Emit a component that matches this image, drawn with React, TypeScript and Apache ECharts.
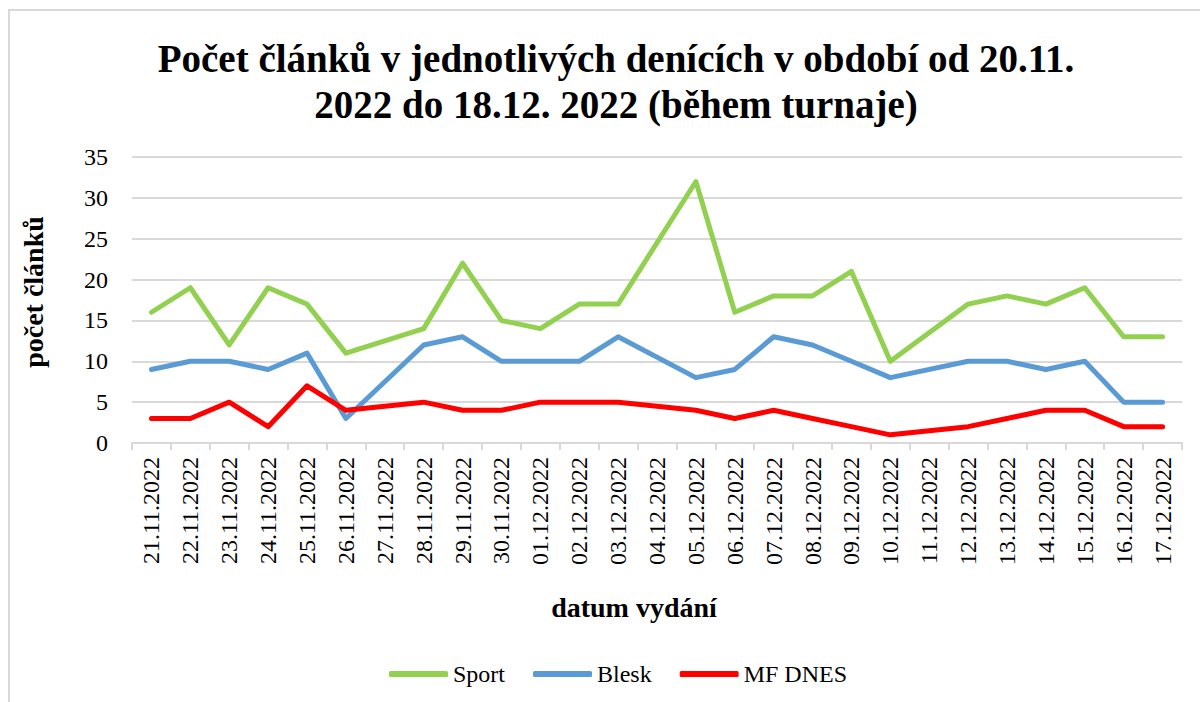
import React, { useEffect, useRef } from "react";
import * as echarts from "echarts";

const categories = [
  "21.11.2022", "22.11.2022", "23.11.2022", "24.11.2022", "25.11.2022", "26.11.2022", "27.11.2022",
  "28.11.2022", "29.11.2022", "30.11.2022", "01.12.2022", "02.12.2022", "03.12.2022", "04.12.2022",
  "05.12.2022", "06.12.2022", "07.12.2022", "08.12.2022", "09.12.2022", "10.12.2022", "11.12.2022",
  "12.12.2022", "13.12.2022", "14.12.2022", "15.12.2022", "16.12.2022", "17.12.2022",
];

const sport = [16, 19, 12, 19, 17, 11, null, 14, 22, 15, 14, 17, 17, null, 32, 16, 18, 18, 21, 10, null, 17, 18, 17, 19, 13, 13];
const blesk = [9, 10, 10, 9, 11, 3, null, 12, 13, 10, 10, 10, 13, null, 8, 9, 13, 12, 10, 8, null, 10, 10, 9, 10, 5, 5];
const mfDnes = [3, 3, 5, 2, 7, 4, null, 5, 4, 4, 5, 5, 5, null, 4, 3, 4, 3, 2, 1, null, 2, 3, 4, 4, 2, 2];

const yTicks = { min: 0, max: 35, interval: 5 };

const titleText = "Počet článků v jednotlivých denících v období od 20.11.\n2022 do 18.12. 2022 (během turnaje)";
const serif = "Liberation Serif";

export default function App() {
  const ref = useRef<HTMLDivElement>(null);
  useEffect(() => {
    if (!ref.current) return;
    const chart = echarts.init(ref.current, null, { renderer: "svg" });
    const mkSeries = (name: string, data: (number | null)[], color: string) => ({
      name,
      type: "line",
      data,
      connectNulls: true,
      showSymbol: false,
      symbol: "none",
      color,
      lineStyle: { width: 5, color, cap: "round", join: "round" },
    });
    chart.setOption({
      animation: false,
      backgroundColor: "#fff",
      textStyle: { fontFamily: serif },
      graphic: [
        {
          type: "rect",
          shape: { x: 9, y: 10, width: 1200, height: 700 },
          style: { fill: "none", stroke: "#d9d9d9", lineWidth: 2 },
          silent: true,
        },
      ],
      title: {
        text: titleText,
        left: 611,
        top: 30,
        textAlign: "center",
        textStyle: {
          fontFamily: serif,
          fontSize: 39,
          fontWeight: "bold",
          lineHeight: 46,
          color: "#000",
        },
      },
      legend: {
        left: 384,
        top: 657,
        itemWidth: 59,
        itemHeight: 6,
        itemGap: 28,
        icon: "roundRect",
        textStyle: { fontFamily: serif, fontSize: 24, color: "#000" },
        data: ["Sport", "Blesk", "MF DNES"],
      },
      grid: { left: 132, right: 18, top: 157, bottom: 259, containLabel: false },
      xAxis: {
        type: "category",
        data: categories,
        boundaryGap: true,
        name: "datum vydání",
        nameLocation: "middle",
        nameGap: 150,
        nameTextStyle: {
          fontFamily: serif,
          fontSize: 28,
          fontWeight: "bold",
          color: "#000",
          padding: [0, 46, 0, 0],
        },
        axisLine: { lineStyle: { color: "#d9d9d9", width: 2 } },
        axisTick: { show: true, length: 7, lineStyle: { color: "#d9d9d9", width: 2 } },
        axisLabel: {
          rotate: 90,
          interval: 0,
          margin: 14,
          fontFamily: serif,
          fontSize: 24,
          color: "#000",
        },
      },
      yAxis: {
        type: "value",
        min: yTicks.min,
        max: yTicks.max,
        interval: yTicks.interval,
        name: "počet článků",
        nameLocation: "middle",
        nameGap: 85,
        nameTextStyle: {
          fontFamily: serif,
          fontSize: 28,
          fontWeight: "bold",
          color: "#000",
          padding: [0, 0, 0, 16],
        },
        axisLine: { show: false },
        axisTick: { show: false },
        axisLabel: { margin: 24, fontFamily: serif, fontSize: 24, color: "#000" },
        splitLine: { lineStyle: { color: "#d9d9d9", width: 2 } },
      },
      series: [
        mkSeries("Sport", sport, "#92d050"),
        mkSeries("Blesk", blesk, "#5b9bd5"),
        mkSeries("MF DNES", mfDnes, "#ff0000"),
      ],
    });
    return () => chart.dispose();
  }, []);
  return (
    <div
      ref={ref}
      style={{ position: "absolute", left: 0, top: 0, width: 1200, height: 702 }}
    />
  );
}
